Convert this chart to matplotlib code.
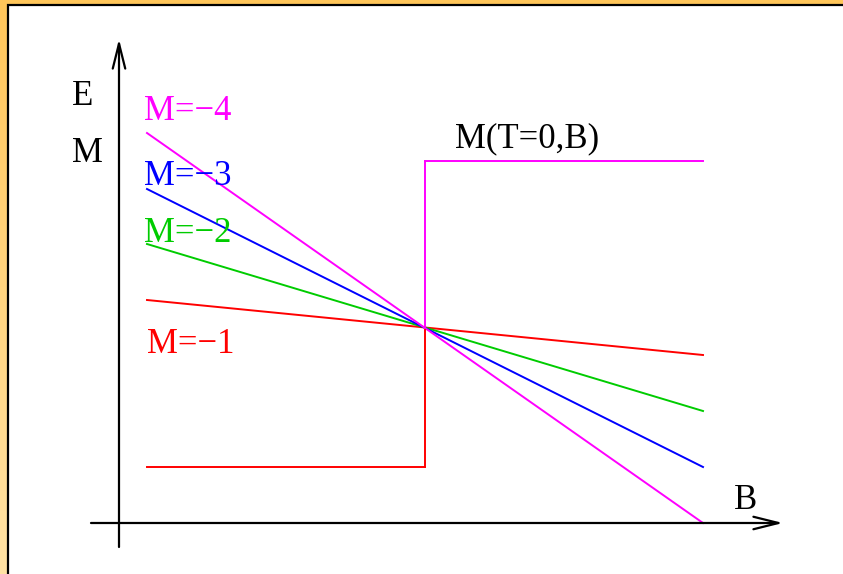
import numpy as np
import matplotlib.pyplot as plt
from matplotlib.patches import Rectangle
from matplotlib.colors import LinearSegmentedColormap

plt.rcParams['font.family'] = ['Liberation Serif', 'DejaVu Serif']

# Energy levels E_M(B): straight lines that all cross at the level-crossing field
labels = ['M=\u22121', 'M=\u22122', 'M=\u22123', 'M=\u22124']
colors = ['#ff0000', '#00cc00', '#0000ff', '#ff00ff']
B_ends = [0.28, 5.84]
E_start = [2.23, 2.79, 3.34, 3.90]
E_end = [1.68, 1.12, 0.56, 0.0]

# Ground-state magnetisation M(T=0,B): a step at the crossing field
B_step = [0.28, 3.06, 3.06, 5.84]
M_low = 0.56
M_high = 3.62
E_cross = 1.95

# label positions (left edge, baseline)
label_B = [0.28, 0.25, 0.25, 0.25]
label_E = [1.70, 2.81, 3.38, 4.03]

fig = plt.figure(figsize=(8.43, 5.74), dpi=100)

# orange frame with black inner edge
bg = fig.add_axes([0, 0, 1, 1], zorder=-2)
grad = np.linspace(0, 1, 256).reshape(-1, 1)
cmap = LinearSegmentedColormap.from_list('frame', ['#ffc65a', '#ffe2a4'])
bg.imshow(grad, aspect='auto', cmap=cmap, extent=[0, 1, 0, 1], origin='upper')
bg.axis('off')
fig.patches.append(Rectangle((8 / 843, -0.1), 1.2, 1 - 5 / 574 + 0.1,
                             transform=fig.transFigure, facecolor='white',
                             edgecolor='black', lw=1.6, zorder=-1))

ax = fig.add_axes([0, 0, 1, 1])
ax.patch.set_alpha(0)
ax.set_xlim(-1.19, 7.24)
ax.set_ylim(-0.51, 5.23)
ax.axis('off')

# axes with open arrow heads
arrow = dict(arrowstyle='->,head_length=18,head_width=4.5', mutation_scale=1,
             lw=1.6, color='black', shrinkA=0, shrinkB=0)
ax.annotate('', xy=(0, 4.84), xytext=(0, -0.24), arrowprops=arrow)
ax.annotate('', xy=(6.64, 0), xytext=(-0.28, 0), arrowprops=arrow)

for c, e0, e1 in zip(colors, E_start, E_end):
    ax.plot(B_ends, [e0, e1], color=c, lw=1.4)

ax.plot(B_step[:2], [M_low, M_low], color='#ff0000', lw=1.4)
ax.plot(B_step[1:3], [M_low, E_cross], color='#ff0000', lw=1.4)
ax.plot(B_step[1:3], [E_cross, M_high], color='#ff00ff', lw=1.4)
ax.plot(B_step[2:], [M_high, M_high], color='#ff00ff', lw=1.4)

fs = 25
for lab, c, bx, ey in zip(labels, colors, label_B, label_E):
    ax.text(bx, ey, lab, color=c, fontsize=fs, va='baseline', ha='left')

ax.text(-0.47, 4.18, 'E', fontsize=fs, va='baseline')
ax.text(-0.47, 3.61, 'M', fontsize=fs, va='baseline')
ax.text(3.36, 3.76, 'M(T=0,B)', fontsize=fs, va='baseline')
ax.text(6.15, 0.14, 'B', fontsize=fs, va='baseline')

fig.savefig('out.png', dpi=100)
